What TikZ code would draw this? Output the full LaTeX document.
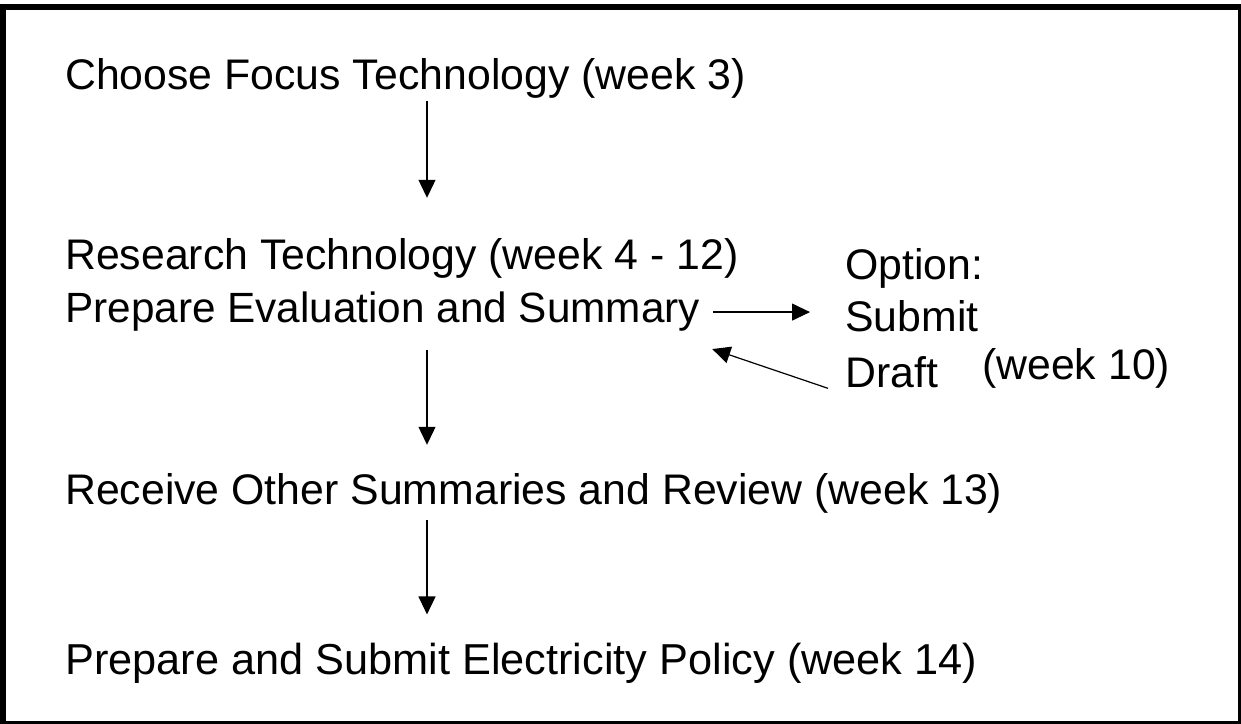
\documentclass[tikz,border=0pt]{standalone}
\usepackage{fontspec}
\setmainfont{Liberation Sans}
\usetikzlibrary{arrows.meta,positioning,calc}

\begin{document}
\begin{tikzpicture}[x=1pt,y=-1pt,>={Triangle[length=18pt,width=17pt]},
  stage/.style={anchor=base west,inner sep=0pt,font=\fontsize{42.8}{50}\selectfont},
  flow/.style={->,line width=1.2pt}]
\useasboundingbox (0,0) rectangle (1241,723);
\draw[line width=6pt] (3,7) rectangle (1241,724);

% main steps
\node[stage] (choose) at (65,89) {Choose Focus Technology (week 3)};
\node[stage] (research) at (65,269) {Research Technology (week 4 - 12)};
\node[stage,font=\fontsize{42.3}{50}\selectfont] (prepare) at (65,322) {Prepare Evaluation and Summary};
\node[stage] (receive) at (65,504) {Receive Other Summaries and Review (week 13)};
\node[stage,font=\fontsize{43.3}{50}\selectfont] (policy) at (65,674) {Prepare and Submit Electricity Policy (week 14)};

% draft option
\node[stage] (option) at (845,279) {Option:};
\node[stage] (submit) at (845,331) {Submit};
\node[stage] (draft) at (845,387) {Draft};
\node[stage] (week) at (982,379) {(week 10)};

\coordinate (spine) at (427,0);
\draw[flow] ([yshift=-3pt]choose.south -| spine) -- ([yshift=40pt]research.north -| spine);
\draw[flow] ([yshift=-19pt]prepare.south -| spine) -- ([yshift=28pt]receive.north -| spine);
\draw[flow] ([yshift=-7pt]receive.south -| spine) -- ([yshift=28pt]policy.north -| spine);
\draw[flow] ([xshift=13pt,yshift=-1pt]prepare.east) -- ([xshift=-35pt,yshift=-1pt]prepare.east -| submit.west);
\draw[flow] ([xshift=-17pt,yshift=-16.6pt]draft.west) -- ([xshift=12pt,yshift=-38pt]prepare.east);
\end{tikzpicture}
\end{document}
